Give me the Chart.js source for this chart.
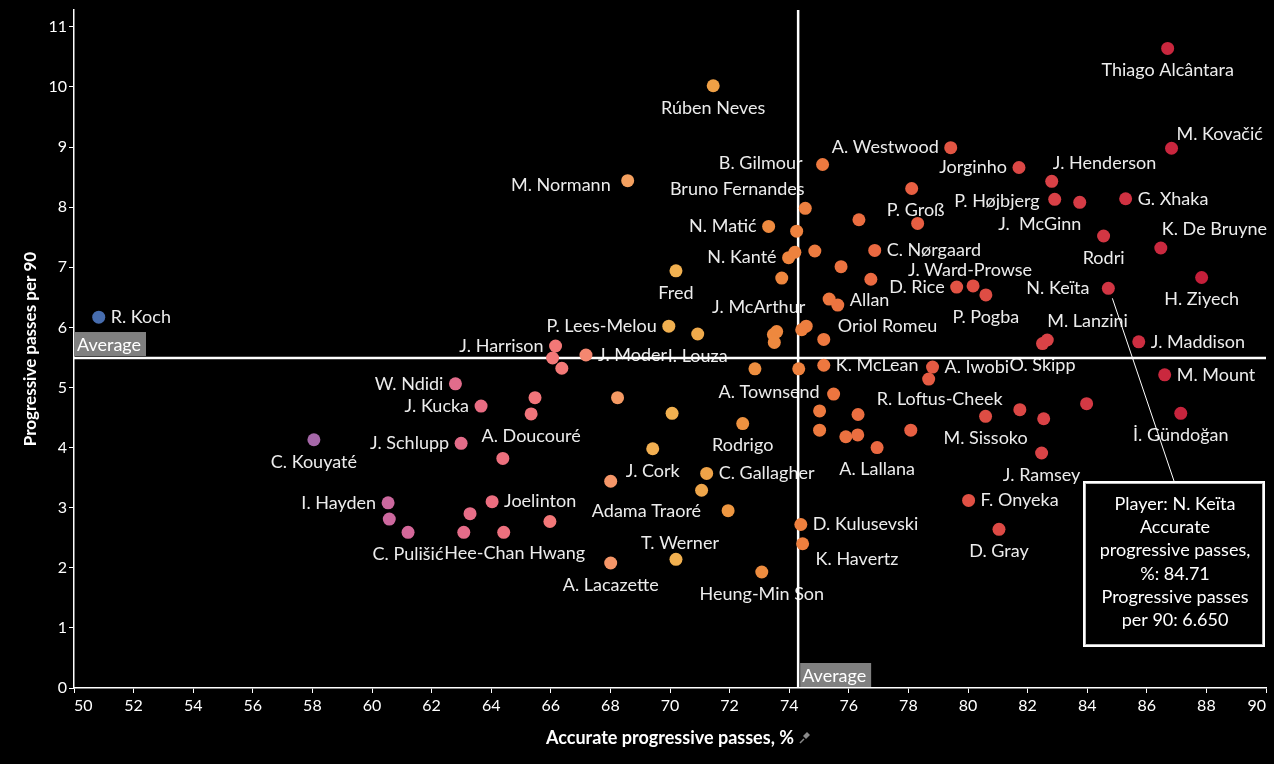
<!DOCTYPE html>
<html lang="en">
<head>
<meta charset="UTF-8">
<title>Progressive passes vs accuracy</title>
<script src="https://cdn.jsdelivr.net/npm/chart.js"></script>
<style>
  html, body { margin: 0; padding: 0; background: #000; }
</style>
</head>
<body>
<canvas id="chart" width="1274" height="764"></canvas>
<script>
// one entry per player, '' = point shown without a name label
const players = [
  'R. Koch', 'C. Kouyaté', 'I. Hayden', '', 'C. Pulišić', 'W. Ndidi', 'J. Schlupp', '', 'J. Kucka', '',
  'Joelinton', '', 'Hee-Chan Hwang', 'A. Doucouré', '', '', '', 'J. Harrison', '', 'J. Moder',
  'A. Lacazette', '', '', 'M. Normann', 'J. Cork', 'P. Lees-Melou', '', 'Fred', 'T. Werner', 'I. Louza',
  '', 'C. Gallagher', 'Rúben Neves', 'Adama Traoré', 'Rodrigo', '', 'Heung-Min Son', 'N. Matić', '', 'J. McArthur',
  '', '', 'N. Kanté', '', '', '', 'D. Kulusevski', '', 'K. Havertz', 'Bruno Fernandes',
  '', '', '', '', 'B. Gilmour', 'Oriol Romeu', 'K. McLean', '', 'A. Townsend', 'Allan',
  '', '', '', '', '', '', 'C. Nørgaard', 'A. Lallana', '', 'P. Groß',
  '', 'R. Loftus-Cheek', 'A. Iwobi', 'A. Westwood', 'D. Rice', 'F. Onyeka', 'J. Ward-Prowse', 'M. Sissoko', 'P. Pogba', 'D. Gray',
  'Jorginho', '', 'J. Ramsey', 'O. Skipp', '', 'M. Lanzini', 'J. Henderson', 'P. Højbjerg', 'J.  McGinn', '',
  'Rodri', 'N. Keïta', 'G. Xhaka', 'J. Maddison', 'K. De Bruyne', 'M. Mount', 'Thiago Alcântara', 'M. Kovačić', 'İ. Gündoğan', 'H. Ziyech'
];
// Accurate progressive passes, %
const accuracy = [
  50.83, 58.05, 60.54, 60.58, 61.21, 62.80, 62.99, 63.08, 63.66, 63.29,
  64.03, 64.39, 64.42, 65.34, 65.47, 65.97, 66.06, 66.16, 66.37, 67.18,
  68.01, 68.01, 68.24, 68.58, 69.42, 69.96, 70.07, 70.20, 70.20, 70.93,
  71.06, 71.23, 71.45, 71.95, 72.44, 72.85, 73.08, 73.31, 73.47, 73.58,
  73.50, 73.75, 73.98, 74.19, 74.25, 74.32, 74.39, 74.42, 74.45, 74.54,
  74.57, 74.86, 75.02, 75.02, 75.12, 75.16, 75.16, 75.34, 75.49, 75.63,
  75.74, 75.90, 76.30, 76.31, 76.34, 76.74, 76.87, 76.95, 78.08, 78.11,
  78.31, 78.68, 78.81, 79.42, 79.62, 80.02, 80.17, 80.59, 80.60, 81.04,
  81.71, 81.74, 82.47, 82.50, 82.54, 82.66, 82.81, 82.91, 83.75, 83.98,
  84.55, 84.71, 85.29, 85.73, 86.47, 86.60, 86.70, 86.83, 87.14, 87.84
];
// Progressive passes per 90
const progPer90 = [
  6.17, 4.13, 3.08, 2.81, 2.59, 5.06, 4.07, 2.59, 4.69, 2.90,
  3.10, 3.82, 2.59, 4.56, 4.83, 2.77, 5.49, 5.69, 5.32, 5.54,
  2.08, 3.44, 4.83, 8.44, 3.98, 6.02, 4.57, 6.94, 2.14, 5.89,
  3.29, 3.57, 10.02, 2.95, 4.40, 5.31, 1.93, 7.68, 5.88, 5.93,
  5.75, 6.82, 7.16, 7.25, 7.60, 5.31, 2.72, 5.96, 2.40, 7.98,
  6.02, 7.27, 4.61, 4.29, 8.71, 5.80, 5.37, 6.47, 4.89, 6.37,
  7.01, 4.18, 4.21, 4.55, 7.79, 6.80, 7.28, 4.00, 4.29, 8.31,
  7.73, 5.14, 5.34, 8.99, 6.67, 3.12, 6.69, 4.52, 6.54, 2.64,
  8.66, 4.63, 3.91, 5.73, 4.48, 5.79, 8.43, 8.13, 8.08, 4.73,
  7.52, 6.650, 8.14, 5.76, 7.32, 5.21, 10.64, 8.98, 4.57, 6.83
];
const avgAccuracy = 74.3;
const avgProg = 5.49;
const xRange = [50, 90, 2];
const yRange = [0, 11.28];
const yTickValues = [0, 1, 2, 3, 4, 5, 6, 7, 8, 9, 10, 11];
const pinned = 'N. Keïta';

// label placement next to each point: [textAlign, dx, dy]
const R = ['left', 12, 0], L = ['right', -12, 0], B = ['center', 0, 22], T = ['center', 0, -17];
const labelSpot = [
  R, B, L, null, B, L, L, null, L, null,
  R, null, ['center', 11, 21], B, null, null, null, L, null, R,
  B, null, null, ['right', -17, 4], B, L, null, B, ['center', 4, -16], B,
  null, R, B, ['right', -27, 1], B, null, B, L, null, ['center', -18, -24],
  null, null, L, null, null, null, R, null, ['left', 13, 15], ['center', -68, -19],
  null, null, null, null, ['right', -20, -1], ['left', 14, -13], R, null, ['right', -14, -2], ['left', 12, -5],
  null, null, null, null, null, null, R, B, null, ['center', 4, 22],
  null, ['center', 11, 20], R, L, L, R, ['center', -3, -16], B, B, B,
  L, null, B, B, null, ['left', 0, -19], ['left', 1, -18], ['right', -15, 2], ['center', -40, 22], null,
  B, ['right', -19, 0], R, R, ['left', 1, -19], R, B, ['left', 5, -14], B, B
];

const FONT = 'Lato, "Noto Sans", sans-serif';

const colorStops = [
  [50, [60, 110, 176]], [58, [164, 103, 168]], [61, [210, 104, 156]], [64, [236, 110, 128]],
  [66.5, [244, 122, 118]], [68, [245, 150, 104]], [69.5, [242, 176, 80]], [70.5, [240, 176, 80]],
  [72, [238, 150, 64]], [74, [238, 132, 62]], [76, [236, 112, 64]], [78, [232, 96, 66]],
  [80, [224, 80, 68]], [83, [216, 64, 70]], [86, [204, 44, 64]], [88, [196, 30, 58]]
];
function pointColor(x) {
  if (x <= colorStops[0][0]) return 'rgb(' + colorStops[0][1].join(',') + ')';
  for (let i = 1; i < colorStops.length; i++) {
    const [x1, c1] = colorStops[i];
    const [x0, c0] = colorStops[i - 1];
    if (x <= x1) {
      const t = (x - x0) / (x1 - x0);
      const c = c0.map((v, k) => Math.round(v + (c1[k] - v) * t));
      return 'rgb(' + c.join(',') + ')';
    }
  }
  return 'rgb(' + colorStops[colorStops.length - 1][1].join(',') + ')';
}

const points = accuracy.map((x, i) => ({ x: x, y: progPer90[i], name: players[i] }));

// names + average lines (drawn under the dots)
const underlay = {
  id: 'underlay',
  beforeDatasetsDraw(chart) {
    const { ctx, chartArea: a, scales: { x, y } } = chart;
    ctx.save();
    ctx.font = '18px ' + FONT;
    ctx.fillStyle = '#ececec';
    ctx.textBaseline = 'middle';
    points.forEach((p, i) => {
      const spot = labelSpot[i];
      if (!p.name || !spot) return;
      ctx.textAlign = spot[0];
      ctx.fillText(p.name, x.getPixelForValue(p.x) + spot[1], y.getPixelForValue(p.y) + spot[2]);
    });
    ctx.strokeStyle = '#ffffff';
    ctx.lineWidth = 2.5;
    const ay = y.getPixelForValue(avgProg);
    const ax = x.getPixelForValue(avgAccuracy);
    ctx.beginPath();
    ctx.moveTo(a.left, ay); ctx.lineTo(a.right, ay);
    ctx.moveTo(ax, a.top); ctx.lineTo(ax, a.bottom);
    ctx.stroke();
    ctx.restore();
  }
};

// "Average" tags, pinned tooltip, pin icon
const overlay = {
  id: 'overlay',
  afterDraw(chart) {
    const { ctx, chartArea: a, scales: { x, y } } = chart;
    ctx.save();
    ctx.font = '18px ' + FONT;
    ctx.textBaseline = 'middle';
    const ay = y.getPixelForValue(avgProg);
    const ax = x.getPixelForValue(avgAccuracy);
    ctx.fillStyle = '#808080';
    ctx.fillRect(a.left + 1, ay - 26, 71, 24);
    ctx.fillRect(ax + 2, a.bottom - 25, 71, 24);
    ctx.fillStyle = '#ffffff';
    ctx.textAlign = 'left';
    ctx.fillText('Average', a.left + 3, ay - 13);
    ctx.fillText('Average', ax + 4, a.bottom - 12);

    // pinned tooltip
    const k = players.indexOf(pinned);
    const px = x.getPixelForValue(accuracy[k]);
    const py = y.getPixelForValue(progPer90[k]);
    const bx = 1083, by = 481, bw = 182, bh = 166;
    ctx.strokeStyle = '#ffffff';
    ctx.lineWidth = 1;
    ctx.beginPath();
    ctx.moveTo(px + 4, py + 10);
    ctx.lineTo(bx + bw / 2, by);
    ctx.stroke();
    ctx.fillStyle = '#000';
    ctx.fillRect(bx, by, bw, bh);
    ctx.lineWidth = 2;
    ctx.strokeRect(bx + 1, by + 1, bw - 2, bh - 2);
    ctx.strokeStyle = '#bbbbbb';
    ctx.lineWidth = 1;
    ctx.strokeRect(bx + 2.5, by + 2.5, bw - 5, bh - 5);
    const lines = [
      'Player: ' + pinned,
      'Accurate',
      'progressive passes,',
      '%: ' + accuracy[k].toFixed(2),
      'Progressive passes',
      'per 90: ' + progPer90[k].toFixed(3)
    ];
    ctx.fillStyle = '#ffffff';
    ctx.textAlign = 'center';
    lines.forEach((t, i) => ctx.fillText(t, bx + bw / 2 + 1, by + 23 + i * 23.3));

    // little pin after the x title
    ctx.font = 'bold 18px ' + FONT;
    const tw = ctx.measureText('Accurate progressive passes, %').width;
    const cx = (a.left + a.right) / 2 + tw / 2 + 10, cy = 738;
    ctx.strokeStyle = '#8a8a8a';
    ctx.fillStyle = '#8a8a8a';
    ctx.lineWidth = 1.5;
    ctx.beginPath();
    ctx.moveTo(cx - 4, cy + 5); ctx.lineTo(cx, cy + 1);
    ctx.stroke();
    ctx.beginPath();
    ctx.moveTo(cx - 1, cy - 2); ctx.lineTo(cx + 3, cy - 6); ctx.lineTo(cx + 6, cy - 3); ctx.lineTo(cx + 2, cy + 1);
    ctx.closePath();
    ctx.fill();
    ctx.restore();
  }
};

new Chart(document.getElementById('chart'), {
  type: 'scatter',
  data: {
    datasets: [{
      data: points,
      pointRadius: 6.5,
      pointHoverRadius: 6.5,
      pointBorderWidth: 0,
      backgroundColor: ctx => pointColor(ctx.raw ? ctx.raw.x : 70)
    }]
  },
  options: {
    responsive: false,
    animation: false,
    events: [],
    layout: { padding: { top: 8, right: 8, left: 0, bottom: 0 } },
    plugins: { legend: { display: false }, tooltip: { enabled: false } },
    scales: {
      x: {
        type: 'linear',
        min: xRange[0], max: xRange[1],
        afterFit: s => { s.height = 76; },
        border: { color: '#ffffff', width: 1.5 },
        grid: { drawOnChartArea: false, drawTicks: true, tickLength: 5, color: '#ffffff' },
        ticks: { stepSize: xRange[2], align: 'inner', color: '#ffffff', font: { family: FONT, size: 16 }, padding: 3, maxRotation: 0, autoSkip: false },
        title: { display: true, text: 'Accurate progressive passes, %', color: '#ffffff', font: { family: FONT, size: 18, weight: 'bold' }, padding: { top: 0, bottom: 15 } }
      },
      y: {
        type: 'linear',
        min: yRange[0], max: yRange[1],
        afterFit: s => { s.width = 74; },
        afterBuildTicks: s => { s.ticks = yTickValues.map(v => ({ value: v })); },
        border: { color: '#ffffff', width: 1.5 },
        grid: { drawOnChartArea: false, drawTicks: true, tickLength: 5, color: '#ffffff' },
        ticks: { color: '#ffffff', font: { family: FONT, size: 16, lineHeight: 1 }, padding: 2 },
        title: { display: true, text: 'Progressive passes per 90', color: '#ffffff', font: { family: FONT, size: 17, weight: 'bold' }, padding: { top: 20, bottom: 0 } }
      }
    }
  },
  plugins: [underlay, overlay]
});
</script>
</body>
</html>
